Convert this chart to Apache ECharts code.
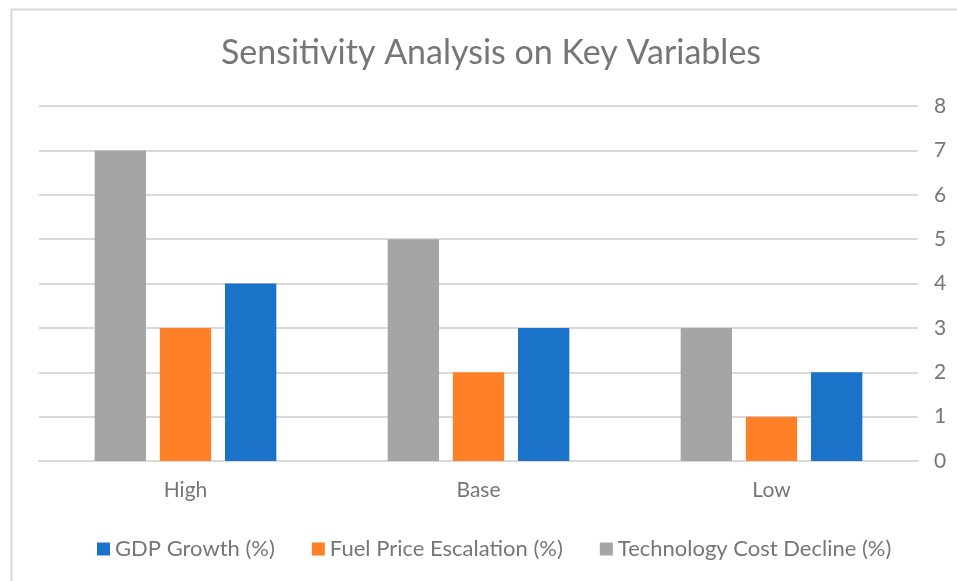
<!DOCTYPE html>
<html>
<head>
<meta charset="utf-8">
<script src="https://cdn.jsdelivr.net/npm/echarts@6/dist/echarts.min.js"></script>
<style>
  html, body { margin: 0; padding: 0; background: #fff; }
  #chart { width: 957px; height: 581px; }
</style>
</head>
<body>
<div id="chart"></div>
<script>
var categories = ["High", "Base", "Low"];
var techCost = [7, 5, 3];
var fuelPrice = [3, 2, 1];
var gdpGrowth = [4, 3, 2];
var yTicks = { min: 0, max: 8, interval: 1 };

var chart = echarts.init(document.getElementById("chart"));
var textColor = "#767676";
var font = "Lato, 'Open Sans', sans-serif";

var option = {
  backgroundColor: "#fff",
  animation: false,
  textStyle: { fontFamily: font },
  graphic: [{
    type: "rect",
    left: 9, top: 7,
    shape: { width: 980, height: 600 },
    style: { fill: "none", stroke: "#d9d9d9", lineWidth: 2 },
    silent: true
  }],
  title: {
    text: "Sensitivity Analysis on Key Variables",
    left: 486, top: 31, textAlign: "center",
    textStyle: { color: textColor, fontSize: 34, fontWeight: "normal", fontFamily: font }
  },
  legend: {
    data: ["GDP Growth (%)", "Fuel Price Escalation (%)", "Technology Cost Decline (%)"],
    left: 92, top: 533,
    icon: "rect", itemWidth: 13, itemHeight: 13, itemGap: 37,
    textStyle: { color: textColor, fontSize: 22, fontFamily: font }
  },
  grid: { left: 39, right: 39, top: 106, bottom: 120, containLabel: false },
  xAxis: {
    type: "category",
    data: categories,
    axisLine: { lineStyle: { color: "#d9d9d9", width: 2 } },
    axisTick: { show: false },
    axisLabel: { color: textColor, fontSize: 21, margin: 19 }
  },
  yAxis: {
    type: "value",
    position: "right",
    min: yTicks.min, max: yTicks.max, interval: yTicks.interval,
    axisLine: { show: false },
    axisTick: { show: false },
    splitLine: { lineStyle: { color: "#d9d9d9", width: 2 } },
    axisLabel: { color: textColor, fontSize: 21, margin: 16 }
  },
  series: [
    { name: "Technology Cost Decline (%)", type: "bar", data: techCost,
      itemStyle: { color: "#a5a5a5" }, barGap: "27%", barCategoryGap: "38%" },
    { name: "Fuel Price Escalation (%)", type: "bar", data: fuelPrice,
      itemStyle: { color: "#ff8027" } },
    { name: "GDP Growth (%)", type: "bar", data: gdpGrowth,
      itemStyle: { color: "#1a73c9" } }
  ]
};
chart.setOption(option);
</script>
</body>
</html>
